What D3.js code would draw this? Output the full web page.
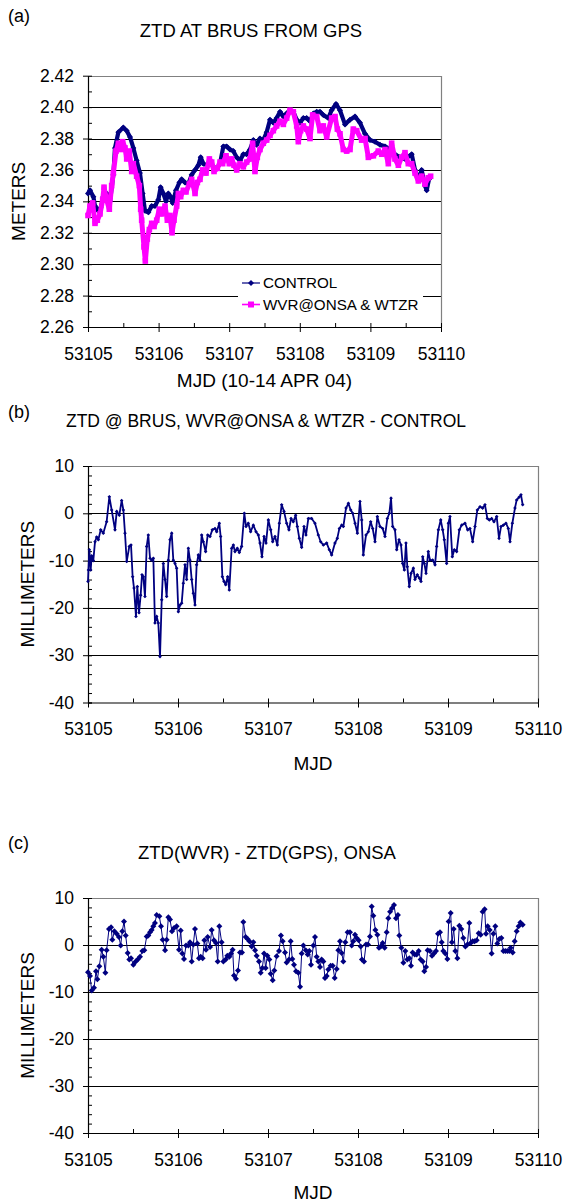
<!DOCTYPE html>
<html>
<head>
<meta charset="utf-8">
<script src="https://cdn.jsdelivr.net/npm/d3@7"></script>
<style>
  body { margin: 0; background: #fff; }
  svg { display: block; font-family: "Liberation Sans", Arial, sans-serif; }
</style>
</head>
<body>
<svg id="chart" width="566" height="1203"></svg>
<script>
// ---- data (days are counted from MJD 53105) ----
const MJD0 = 53105;
const mjdTicks = [53105, 53106, 53107, 53108, 53109, 53110];
const ztdTicks = [2.26, 2.28, 2.30, 2.32, 2.34, 2.36, 2.38, 2.40, 2.42];
const mmTicks = [-40, -30, -20, -10, 0, 10];

// (a) CONTROL ZTD, metres
const ctrlDay = [0.000,0.028,0.076,0.099,0.146,0.179,0.217,0.264,0.312,0.359,0.382,0.430,0.500,0.548,0.595,0.642,0.689,0.736,0.774,0.807,
  0.855,0.902,0.949,0.996,1.029,1.067,1.105,1.138,1.171,1.199,1.246,1.294,1.327,1.374,1.421,1.469,1.516,1.563,1.596,1.634,
  1.681,1.728,1.775,1.822,1.870,1.917,1.964,2.011,2.058,2.106,2.153,2.200,2.247,2.295,2.342,2.389,2.436,2.483,2.530,2.578,
  2.625,2.672,2.720,2.767,2.814,2.861,2.908,2.956,3.003,3.050,3.097,3.144,3.192,3.239,3.286,3.333,3.404,3.450,3.513,3.569,
  3.640,3.711,3.782,3.853,3.924,3.994,4.065,4.136,4.207,4.278,4.348,4.419,4.490,4.585,4.632,4.679,4.726,4.773,4.797,4.830];
const ctrlZtd = [2.345,2.347,2.343,2.337,2.334,2.336,2.343,2.345,2.340,2.357,2.374,2.384,2.387,2.385,2.381,2.374,2.366,2.358,2.345,2.334,
  2.333,2.337,2.337,2.341,2.349,2.345,2.340,2.345,2.343,2.339,2.347,2.352,2.354,2.352,2.351,2.357,2.360,2.363,2.368,2.364,
  2.363,2.366,2.362,2.361,2.364,2.375,2.375,2.373,2.372,2.368,2.366,2.370,2.370,2.373,2.379,2.376,2.380,2.379,2.384,2.392,
  2.390,2.393,2.397,2.394,2.396,2.398,2.397,2.392,2.390,2.393,2.393,2.391,2.396,2.397,2.397,2.395,2.393,2.398,2.402,2.398,
  2.389,2.392,2.394,2.390,2.383,2.379,2.378,2.376,2.375,2.373,2.370,2.368,2.367,2.370,2.360,2.354,2.360,2.350,2.347,2.354];

// (a) WVR@ONSA & WTZR ZTD, metres
const wvrDay = [0.000,0.028,0.066,0.099,0.132,0.170,0.208,0.227,0.264,0.302,0.335,0.359,0.397,0.430,0.463,0.491,0.524,0.548,0.585,0.619,
  0.642,0.689,0.727,0.746,0.760,0.793,0.812,0.840,0.869,0.902,0.935,0.973,1.010,1.043,1.091,1.124,1.161,1.190,1.218,1.256,
  1.280,1.313,1.350,1.388,1.435,1.468,1.516,1.549,1.586,1.624,1.671,1.719,1.752,1.785,1.832,1.870,1.907,1.955,2.002,2.035,
  2.068,2.106,2.153,2.200,2.247,2.295,2.332,2.365,2.398,2.436,2.483,2.531,2.578,2.625,2.672,2.720,2.767,2.814,2.861,2.908,
  2.956,2.979,3.012,3.050,3.097,3.144,3.182,3.239,3.286,3.333,3.381,3.451,3.499,3.532,3.569,3.617,3.664,3.711,3.758,3.806,
  3.876,3.924,3.971,4.042,4.112,4.160,4.207,4.254,4.301,4.348,4.396,4.443,4.490,4.537,4.584,4.632,4.679,4.726,4.773,4.820,4.853];
const wvrZtd = [2.331,2.337,2.339,2.326,2.328,2.332,2.341,2.349,2.341,2.335,2.350,2.358,2.372,2.377,2.373,2.378,2.374,2.367,2.372,2.359,
  2.364,2.356,2.350,2.335,2.328,2.311,2.302,2.316,2.322,2.326,2.324,2.328,2.335,2.332,2.337,2.328,2.331,2.320,2.328,2.337,
  2.345,2.343,2.347,2.346,2.351,2.354,2.345,2.352,2.354,2.360,2.358,2.367,2.365,2.359,2.361,2.365,2.364,2.369,2.364,2.367,
  2.363,2.360,2.364,2.362,2.365,2.367,2.377,2.359,2.368,2.373,2.377,2.379,2.382,2.385,2.388,2.391,2.389,2.393,2.398,2.397,
  2.388,2.378,2.385,2.388,2.386,2.380,2.395,2.394,2.385,2.388,2.381,2.393,2.394,2.386,2.383,2.373,2.372,2.373,2.386,2.385,
  2.379,2.380,2.368,2.369,2.372,2.370,2.373,2.364,2.377,2.367,2.363,2.368,2.371,2.364,2.364,2.358,2.353,2.356,2.351,2.355,2.356];

// (b) WVR - CONTROL at BRUS, mm
const diffDay = [0.000,0.005,0.015,0.030,0.041,0.059,0.078,0.096,0.115,0.141,0.170,0.207,0.237,0.263,0.300,0.319,0.348,0.374,0.393,0.411,
  0.430,0.459,0.478,0.496,0.511,0.533,0.548,0.567,0.585,0.600,0.615,0.633,0.652,0.670,0.689,0.707,0.726,0.744,0.763,0.781,
  0.800,0.819,0.837,0.856,0.874,0.893,0.911,0.930,0.948,0.967,0.985,1.004,1.022,1.041,1.059,1.078,1.096,1.115,1.133,1.152,
  1.170,1.189,1.207,1.226,1.244,1.263,1.281,1.307,1.330,1.356,1.381,1.411,1.430,1.459,1.474,1.493,1.511,1.530,1.552,1.570,
  1.596,1.615,1.633,1.659,1.681,1.707,1.737,1.756,1.781,1.807,1.837,1.867,1.893,1.911,1.933,1.956,1.978,2.004,2.030,2.052,
  2.078,2.104,2.126,2.152,2.178,2.207,2.233,2.256,2.281,2.307,2.326,2.348,2.374,2.400,2.422,2.448,2.485,2.522,2.559,2.585,
  2.615,2.652,2.681,2.707,2.744,2.770,2.793,2.819,2.837,2.867,2.893,2.919,2.941,2.967,2.993,3.022,3.041,3.059,3.089,3.115,
  3.141,3.163,3.189,3.215,3.244,3.274,3.300,3.326,3.348,3.367,3.385,3.411,3.430,3.456,3.478,3.496,3.515,3.533,3.548,3.570,
  3.589,3.615,3.633,3.659,3.681,3.700,3.719,3.737,3.756,3.781,3.800,3.830,3.856,3.874,3.893,3.919,3.941,3.959,3.985,4.004,
  4.022,4.048,4.070,4.096,4.126,4.152,4.189,4.219,4.244,4.274,4.300,4.326,4.356,4.385,4.411,4.437,4.459,4.485,4.511,4.541,
  4.567,4.589,4.615,4.644,4.670,4.689,4.715,4.744,4.763,4.789,4.811,4.830];
const diffMm = [-14.4,-12.0,-7.7,-12.0,-9.0,-10.0,-6.0,-5.0,-5.6,-3.5,-4.2,-1.8,3.5,0.7,-3.5,0.4,-0.4,2.7,0.7,-4.2,
  -10.2,-7.0,-6.7,-13.4,-15.8,-21.8,-15.5,-21.0,-17.3,-13.0,-13.4,-17.6,-7.0,-4.6,-9.5,-9.9,-9.5,-23.2,-21.8,-23.2,
  -30.3,-18.3,-10.6,-14.0,-17.6,-9.9,-5.6,-4.2,-9.9,-10.6,-11.6,-20.8,-19.4,-19.0,-14.8,-10.9,-14.0,-7.4,-9.9,-14.0,
  -16.9,-19.4,-10.9,-8.8,-9.9,-4.6,-6.0,-8.1,-4.6,-4.9,-3.5,-3.2,-3.9,-2.1,-4.9,-13.4,-14.4,-15.1,-13.4,-16.2,
  -7.4,-6.7,-8.1,-7.4,-8.3,-7.0,0.0,-2.8,-2.1,-3.9,-2.5,-3.9,-4.6,-6.3,-9.2,-4.9,-6.3,-1.4,-3.5,-6.0,
  -4.9,-6.7,-2.1,1.8,0.4,-2.1,-3.5,-1.1,-1.8,-0.4,-2.8,-5.3,-7.2,-2.8,-4.6,-1.1,-1.1,-2.1,-4.6,-6.0,
  -6.7,-6.3,-7.7,-8.8,-6.3,-5.3,-3.2,-2.5,-2.8,1.1,2.1,0.7,0.0,-2.1,-4.2,2.5,-1.4,-8.8,-4.6,-3.9,
  -1.8,-3.2,-6.0,-0.7,-2.8,-3.2,-4.9,-1.1,0.0,3.2,-2.8,-3.5,-7.7,-5.6,-6.7,-10.6,-12.0,-6.3,-11.3,-15.5,
  -12.7,-11.6,-14.0,-13.0,-13.7,-14.4,-9.2,-10.6,-12.7,-8.1,-9.9,-9.9,-10.9,-7.0,-3.5,-1.4,-3.5,-5.6,-10.6,-2.1,
  -0.7,-9.2,-7.7,-8.1,-3.5,-2.5,-2.1,-3.5,-3.2,-6.0,-2.8,0.7,1.4,1.1,1.8,-1.1,-1.4,-1.1,-1.8,-0.7,
  -5.3,-2.8,-2.5,-2.1,-3.2,-6.0,-2.1,1.1,2.8,3.4,3.9,1.8];

// (c) ZTD(WVR) - ZTD(GPS) at ONSA, mm
const onsaDay = [0.000,0.022,0.041,0.067,0.089,0.104,0.126,0.152,0.170,0.193,0.207,0.233,0.256,0.270,0.293,0.319,0.344,0.363,0.381,0.400,
  0.419,0.441,0.459,0.478,0.504,0.530,0.552,0.578,0.604,0.626,0.652,0.670,0.689,0.707,0.726,0.744,0.763,0.793,0.811,0.830,
  0.856,0.874,0.893,0.911,0.933,0.956,0.985,1.011,1.030,1.048,1.067,1.089,1.115,1.133,1.152,1.170,1.189,1.215,1.233,1.252,
  1.274,1.293,1.311,1.330,1.356,1.374,1.400,1.422,1.441,1.459,1.485,1.504,1.530,1.548,1.570,1.589,1.607,1.622,1.644,1.667,
  1.689,1.711,1.726,1.752,1.774,1.793,1.819,1.837,1.856,1.874,1.900,1.919,1.937,1.956,1.974,1.993,2.015,2.030,2.052,2.070,
  2.096,2.122,2.144,2.163,2.189,2.207,2.233,2.252,2.270,2.289,2.311,2.337,2.356,2.374,2.393,2.419,2.441,2.459,2.478,2.504,
  2.522,2.541,2.559,2.578,2.596,2.615,2.633,2.652,2.670,2.696,2.719,2.741,2.763,2.781,2.800,2.819,2.837,2.859,2.885,2.911,
  2.930,2.948,2.967,2.985,3.007,3.030,3.044,3.067,3.089,3.111,3.133,3.152,3.170,3.193,3.215,3.233,3.252,3.274,3.296,3.319,
  3.337,3.356,3.378,3.400,3.422,3.444,3.459,3.481,3.504,3.526,3.548,3.570,3.589,3.607,3.630,3.652,3.674,3.696,3.719,3.737,
  3.756,3.774,3.800,3.822,3.844,3.867,3.889,3.911,3.930,3.948,3.970,3.993,4.007,4.030,4.044,4.063,4.081,4.104,4.126,4.148,
  4.170,4.193,4.215,4.237,4.252,4.274,4.296,4.319,4.341,4.363,4.385,4.407,4.422,4.441,4.463,4.485,4.504,4.526,4.548,4.570,
  4.593,4.615,4.637,4.659,4.681,4.696,4.719,4.741,4.763,4.785,4.804,4.830];
const onsaMm = [-5.8,-6.6,-9.7,-9.1,-5.6,-7.3,-4.5,-1.0,-2.5,-5.9,-1.1,3.4,3.8,1.1,2.9,2.4,1.7,-0.1,2.9,5.0,
  2.0,-1.7,-3.1,-2.8,-4.2,-3.5,-3.1,-2.5,-1.3,-1.1,1.8,2.0,2.7,3.2,4.0,4.7,6.4,6.1,4.0,1.1,
  -1.1,1.1,5.9,5.4,2.9,3.6,4.0,-1.0,3.1,-1.8,-3.0,-0.1,-0.1,0.6,-3.5,0.1,3.4,0.3,-2.8,-2.5,
  -2.8,1.0,-1.0,1.7,-0.4,3.2,1.0,0.4,-3.5,4.0,0.6,-3.5,-3.1,-2.3,-2.5,-1.8,-1.0,-6.5,-7.2,-5.4,
  -1.6,-1.6,4.9,1.7,1.3,0.8,-0.3,0.6,-1.1,-2.3,-3.5,-5.9,-4.9,-1.8,-4.9,-2.3,-3.1,-6.1,-7.5,-5.4,
  -2.4,-1.3,2.0,0.8,-1.6,-3.7,-3.1,0.8,-3.0,-4.2,-5.6,-5.9,-8.9,-1.8,-0.1,-1.1,-2.0,-1.3,-4.2,-0.1,
  1.7,-2.5,-3.5,-4.7,-3.1,-3.5,-7.0,-6.6,-5.2,-4.4,-4.4,-7.0,-5.1,-1.1,0.8,-1.7,-3.5,0.6,2.7,2.7,
  -0.1,0.8,2.2,1.5,1.0,-0.3,-3.1,-3.5,0.1,0.1,1.8,8.2,6.2,3.2,2.2,-0.6,-0.3,0.4,-0.6,2.7,
  5.7,7.1,7.8,8.5,5.7,6.4,2.0,-0.6,-3.8,-1.3,-3.1,-2.8,-4.4,-1.6,-2.0,-2.0,-1.3,-3.1,-3.5,-5.6,
  -4.7,-1.1,-1.3,-2.3,-1.8,-1.3,2.4,2.7,0.6,-1.3,-1.8,-3.0,5.0,6.8,0.6,3.4,-1.3,-2.8,4.1,3.4,
  1.5,-0.3,0.1,4.7,0.4,0.8,0.8,1.0,2.5,2.2,7.1,7.6,2.4,4.0,3.2,-1.8,2.4,4.0,0.3,1.3,
  1.5,-1.3,-1.3,-1.3,-1.3,-0.6,-1.6,0.8,2.9,4.0,4.8,4.3];

// ---- drawing ----
const NAVY = "#000080", MAGENTA = "#ff00ff";
const svg = d3.select("#chart");

function diamondPath(r) {
  return `M0,${-r}L${r},0L0,${r}L${-r},0Z`;
}

function drawPanel(o) {
  const x = d3.scaleLinear().domain([mjdTicks[0], mjdTicks[mjdTicks.length - 1]]).range([o.left, o.right]);
  const y = d3.scaleLinear().domain([o.yTicks[0], o.yTicks[o.yTicks.length - 1]]).range([o.bottom, o.top]);
  const g = svg.append("g");

  // horizontal gridlines (not on the axis itself)
  g.selectAll("line.grid")
    .data(o.yTicks.slice(1, -1))
    .enter().append("line")
    .attr("x1", o.left).attr("x2", o.right)
    .attr("y1", d => Math.round(y(d)) + 0.5).attr("y2", d => Math.round(y(d)) + 0.5)
    .attr("stroke", "#000").attr("stroke-width", 1);

  // plot area frame: top and right in grey
  g.append("path")
    .attr("d", `M${o.left},${Math.round(o.top) + 0.5}H${Math.round(o.right) + 0.5}V${o.bottom}`)
    .attr("fill", "none").attr("stroke", "#808080").attr("stroke-width", 1.2);

  // minor ticks (inside)
  g.append("g")
    .attr("transform", `translate(${o.left},0)`)
    .call(d3.axisLeft(y).tickValues(o.yMinor).tickSize(-4).tickFormat("").tickSizeOuter(0))
    .call(a => a.select(".domain").remove());
  g.append("g")
    .attr("transform", `translate(0,${o.bottom})`)
    .call(d3.axisBottom(x).tickValues(d3.range(0, 5).map(i => MJD0 + i + 0.5)).tickSize(-4).tickFormat("").tickSizeOuter(0))
    .call(a => a.select(".domain").remove());

  // major axes
  const yAxis = g.append("g")
    .attr("transform", `translate(${o.left},0)`)
    .call(d3.axisLeft(y).tickValues(o.yTicks).tickSizeInner(5).tickSizeOuter(0).tickPadding(9).tickFormat(o.yFormat));
  yAxis.selectAll(".tick line").attr("x1", 4);
  const xAxis = g.append("g")
    .attr("transform", `translate(0,${o.bottom})`)
    .call(d3.axisBottom(x).tickValues(mjdTicks).tickSizeInner(5).tickSizeOuter(0).tickPadding(15.5).tickFormat(d => String(d)));
  xAxis.selectAll(".tick line").attr("y1", -4);
  [yAxis, xAxis].forEach(a => {
    a.select(".domain").attr("stroke", "#000").attr("stroke-width", 1.2);
    a.selectAll(".tick line").attr("stroke", "#000");
    a.selectAll("text").attr("font-family", "Liberation Sans, Arial, sans-serif")
      .attr("font-size", 17.5).attr("fill", "#000");
  });

  // titles
  svg.append("text").attr("x", 8).attr("y", o.tagY).attr("font-size", 18).text(o.tag);
  svg.append("text").attr("x", o.titleX).attr("y", o.titleY).attr("text-anchor", "middle")
    .attr("font-size", o.titleSize).text(o.title);
  svg.append("text").attr("x", (o.left + o.right) / 2).attr("y", o.xLabelY).attr("text-anchor", "middle")
    .attr("font-size", 19).text(o.xLabel);
  svg.append("text")
    .attr("transform", `translate(${o.yLabelX},${(o.top + o.bottom) / 2}) rotate(-90)`)
    .attr("text-anchor", "middle").attr("font-size", 19).text(o.yLabel);

  return { x, y, g };
}

function drawSeries(p, days, vals, s) {
  const pts = d3.zip(days, vals);
  const line = d3.line().x(d => p.x(MJD0 + d[0])).y(d => p.y(d[1]));
  p.g.append("path").datum(pts)
    .attr("d", line).attr("fill", "none")
    .attr("stroke", s.color).attr("stroke-width", s.width).attr("stroke-linejoin", "round");
  const m = p.g.append("g").attr("fill", s.color);
  if (s.square) {
    m.selectAll("rect").data(pts).enter().append("rect")
      .attr("x", d => p.x(MJD0 + d[0]) - s.r).attr("y", d => p.y(d[1]) - s.r)
      .attr("width", 2 * s.r).attr("height", 2 * s.r);
  } else {
    m.selectAll("path").data(pts).enter().append("path")
      .attr("transform", d => `translate(${p.x(MJD0 + d[0])},${p.y(d[1])})`)
      .attr("d", diamondPath(s.r));
  }
}

// (a)
const pa = drawPanel({
  left: 88, right: 441, top: 75.7, bottom: 327,
  yTicks: ztdTicks, yMinor: d3.range(227, 242, 2).map(v => v / 100),
  yFormat: d3.format(".2f"),
  tag: "(a)", tagY: 22, title: "ZTD AT BRUS FROM GPS", titleX: 251, titleY: 37, titleSize: 18.5,
  xLabel: "MJD (10-14 APR 04)", xLabelY: 387, yLabel: "METERS", yLabelX: 25
});
drawSeries(pa, ctrlDay, ctrlZtd, { color: NAVY, width: 4.2, r: 3 });
drawSeries(pa, wvrDay, wvrZtd, { color: MAGENTA, width: 5, r: 2.8, square: true });

// legend
const lg = pa.g.append("g");
lg.append("rect").attr("x", 238).attr("y", 269).attr("width", 185).attr("height", 48).attr("fill", "#fff");
const legendItems = [
  { label: "CONTROL", color: NAVY, square: false, y: 283 },
  { label: "WVR@ONSA & WTZR", color: MAGENTA, square: true, y: 304.5 }
];
legendItems.forEach(it => {
  lg.append("line").attr("x1", 242).attr("x2", 260).attr("y1", it.y).attr("y2", it.y)
    .attr("stroke", it.color).attr("stroke-width", it.square ? 1.6 : 1.2);
  if (it.square) {
    lg.append("rect").attr("x", 248).attr("y", it.y - 3).attr("width", 6).attr("height", 6).attr("fill", it.color);
  } else {
    lg.append("path").attr("transform", `translate(251,${it.y})`).attr("d", diamondPath(3)).attr("fill", it.color);
  }
  lg.append("text").attr("x", 263).attr("y", it.y).attr("dy", "0.36em")
    .attr("font-size", 15.2).text(it.label);
});

// (b)
const pb = drawPanel({
  left: 88, right: 538, top: 466, bottom: 702.5,
  yTicks: mmTicks, yMinor: d3.range(-40, 11, 2),
  yFormat: d => d.toFixed(0),
  tag: "(b)", tagY: 418, title: "ZTD @ BRUS, WVR@ONSA & WTZR - CONTROL", titleX: 266, titleY: 427, titleSize: 17.5,
  xLabel: "MJD", xLabelY: 770, yLabel: "MILLIMETERS", yLabelX: 34
});
drawSeries(pb, diffDay, diffMm, { color: NAVY, width: 1.8, r: 1.8 });

// (c)
const pc = drawPanel({
  left: 88, right: 538, top: 898, bottom: 1133,
  yTicks: mmTicks, yMinor: d3.range(-40, 11, 2),
  yFormat: d => d.toFixed(0),
  tag: "(c)", tagY: 849, title: "ZTD(WVR) - ZTD(GPS), ONSA", titleX: 267, titleY: 859, titleSize: 18.5,
  xLabel: "MJD", xLabelY: 1199, yLabel: "MILLIMETERS", yLabelX: 34
});
drawSeries(pc, onsaDay, onsaMm, { color: NAVY, width: 1, r: 3 });
</script>
</body>
</html>
